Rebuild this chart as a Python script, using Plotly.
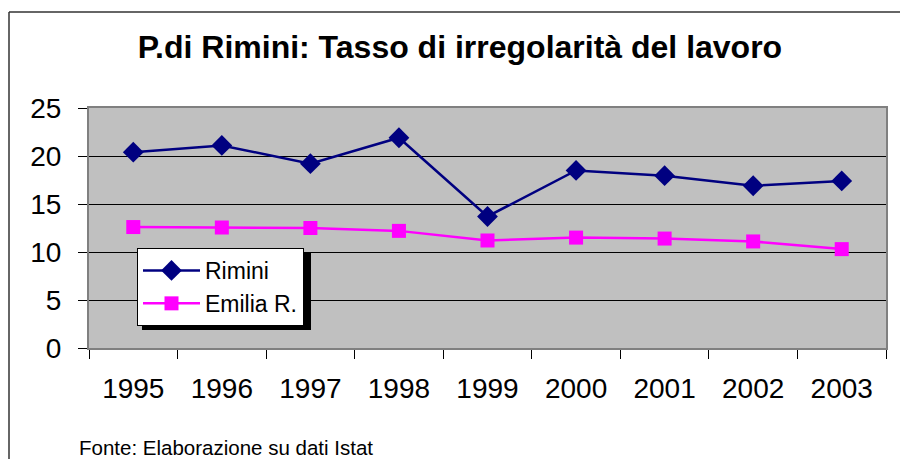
import plotly.graph_objects as go

years = ["1995", "1996", "1997", "1998", "1999", "2000", "2001", "2002", "2003"]
rimini = [20.4, 21.1, 19.2, 21.9, 13.7, 18.5, 17.95, 16.9, 17.4]
emilia = [12.6, 12.55, 12.5, 12.2, 11.2, 11.5, 11.4, 11.1, 10.3]
y_ticks = [0, 5, 10, 15, 20, 25]

W, H = 900, 459
L, R, T, B = 89, 886, 108, 348
FONT = "Arial, Liberation Sans, sans-serif"

def px_x(p):
    return (p - L) / (R - L)

def px_y(p):
    return (B - p) / (B - T)

fig = go.Figure()
fig.add_trace(go.Scatter(
    x=years, y=rimini, name="Rimini", mode="lines+markers",
    line=dict(color="#000080", width=2.5),
    marker=dict(symbol="diamond", size=16, color="#000080"),
))
fig.add_trace(go.Scatter(
    x=years, y=emilia, name="Emilia R.", mode="lines+markers",
    line=dict(color="#FF00FF", width=2.5),
    marker=dict(symbol="square", size=14, color="#FF00FF"),
))

shapes = [
    # outer frame (left and top visible)
    dict(type="line", xref="paper", yref="paper", x0=px_x(9), x1=px_x(9), y0=px_y(12), y1=px_y(470),
         line=dict(color="#333333", width=1.5)),
    dict(type="line", xref="paper", yref="paper", x0=px_x(9), x1=px_x(910), y0=px_y(12), y1=px_y(12),
         line=dict(color="#333333", width=1.5)),
    # legend shadow
    dict(type="rect", xref="paper", yref="paper", x0=px_x(142), x1=px_x(311), y0=px_y(253), y1=px_y(330),
         fillcolor="black", line=dict(width=0), layer="above"),
]

fig.update_layout(
    width=W, height=H,
    margin=dict(l=L, r=W - R, t=T, b=H - B),
    paper_bgcolor="white", plot_bgcolor="#C0C0C0",
    font=dict(family=FONT, color="black"),
    title=dict(text="<b>P.di Rimini: Tasso di irregolarità del lavoro</b>",
               font=dict(size=32, family=FONT, color="black"),
               x=460 / W, xref="container", xanchor="center",
               y=1 - 47 / H, yref="container", yanchor="middle"),
    showlegend=True,
    legend=dict(x=px_x(137), y=px_y(248), xanchor="left", yanchor="top",
                bgcolor="white", bordercolor="black", borderwidth=1,
                font=dict(size=23, family=FONT, color="black"),
                tracegroupgap=0, itemwidth=57),
    xaxis=dict(type="category", range=[-0.5, 8.5], tickson="boundaries",
               ticks="outside", ticklen=9, tickcolor="black", tickwidth=1,
               showline=True, mirror=True, linecolor="#808080", linewidth=2,
               showgrid=False, tickfont=dict(size=28, family=FONT, color="black"),
               ticklabelstandoff=14),
    yaxis=dict(range=[0, 25], tickvals=y_ticks, ticks="outside", ticklen=9,
               tickcolor="black", tickwidth=1,
               showline=True, mirror=True, linecolor="#808080", linewidth=2,
               showgrid=True, gridcolor="black", gridwidth=1, zeroline=False,
               tickfont=dict(size=28, family=FONT, color="black"),
               ticklabelstandoff=11),
    shapes=shapes,
    annotations=[dict(text="Fonte: Elaborazione su dati Istat", xref="paper", yref="paper",
                      x=px_x(77), y=px_y(447), xanchor="left", yanchor="middle",
                      showarrow=False, font=dict(size=20.5, family=FONT, color="black"))],
)

fig.write_html("out.html", config={"displayModeBar": False},
               post_script="document.body.style.margin='0';document.body.style.overflow='hidden';")
